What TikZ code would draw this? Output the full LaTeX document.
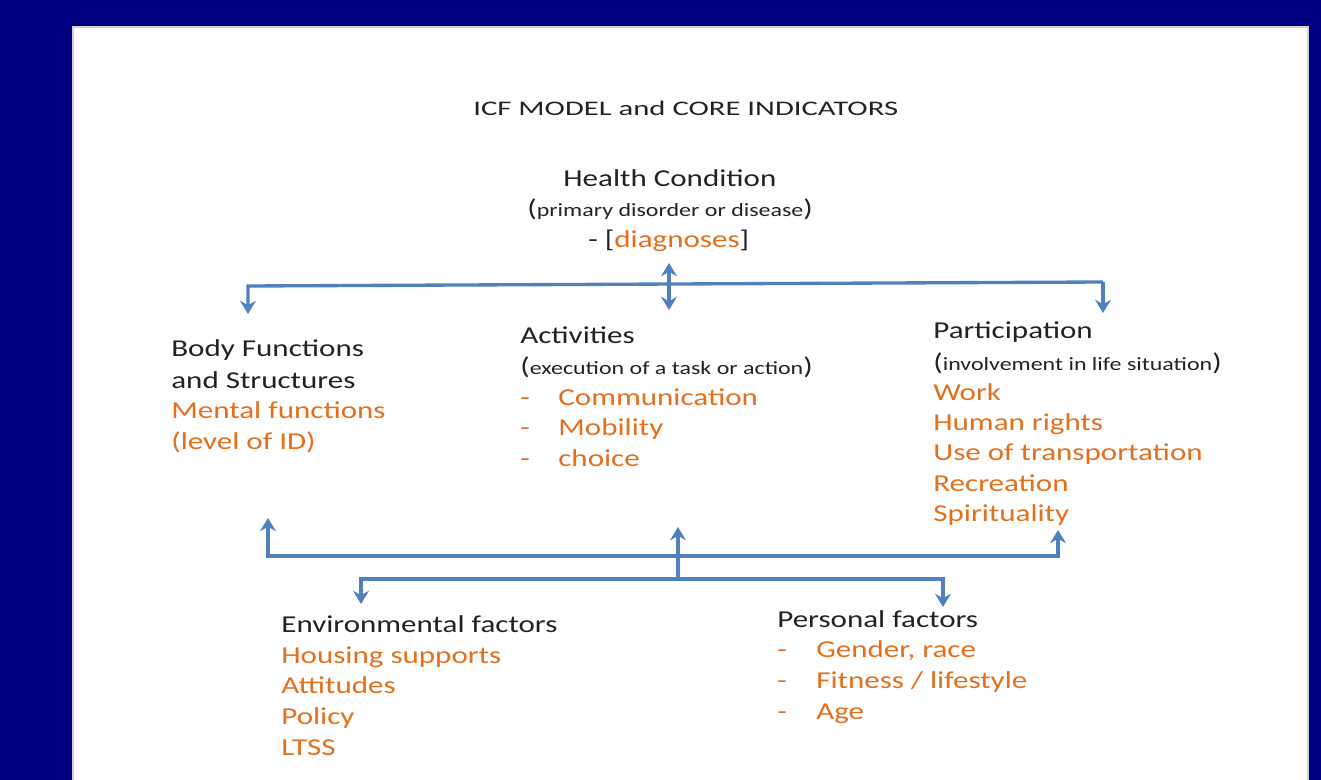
\documentclass[tikz,border=0pt]{standalone}
\usepackage{fontspec}
\setmainfont{Carlito}[FakeStretch=1.28]
\newfontfamily\titlefont{Carlito}[FakeStretch=1.48]
\usepackage{tikz}
\usetikzlibrary{arrows.meta}
\definecolor{navyback}{RGB}{0,0,128}
\definecolor{linkblue}{RGB}{79,129,189}
\definecolor{itemorange}{RGB}{228,112,30}
\definecolor{headgray}{RGB}{35,35,35}
\newcommand{\inparen}[1]{({\fontsize{10.65}{12}\selectfont #1})}

\begin{document}
\begin{tikzpicture}[x=0.02cm,y=-0.02cm,
    head/.style={anchor=base west,inner sep=0pt,text=headgray,font=\fontsize{13.8}{16}\selectfont},
    item/.style={head,text=itemorange},
    link/.style={linkblue,line width=1.9pt},
    arr/.style={-{Stealth[length=7.5pt,width=9pt,inset=2.5pt]}}]
  \useasboundingbox (0,0) rectangle (1321,780);
  % slide background and white panel
  \fill[navyback] (0,0) rectangle (1321,780);
  \fill[white] (73,27) rectangle (1308,780);
  \draw[gray!35,line width=0.6pt] (73,780) -- (73,27) -- (1308,27) -- (1308,780);

  \node[head,font=\titlefont\fontsize{11.8}{13}\selectfont] (title) at (473,116) {ICF MODEL and CORE INDICATORS};

  % health condition
  \node[head] (hc1) at (563,187) {Health Condition};
  \node[head] (hc2) at (527,217) {\inparen{primary disorder or disease}};
  \node[head] (hc3) at (588,248) {- [\textcolor{itemorange}{diagnoses}]};

  % body functions and structures
  \node[head] (bf1) at (171,357) {Body Functions};
  \node[head] (bf2) at (171,388) {and Structures};
  \node[item] (bf3) at (171,418) {Mental functions};
  \node[item] (bf4) at (171,449) {(level of ID)};

  % activities
  \node[head] (ac1) at (520,343) {Activities};
  \node[head] (ac2) at (520,375) {\inparen{execution of a task or action}};
  \foreach \t [count=\i] in {Communication,Mobility,choice} {
    \node[item] (acd\i) at (520,405+30.8*\i-30.8) {-};
    \node[item] (aci\i) at (558,405+30.8*\i-30.8) {\t};
  }

  % participation
  \node[head] (pa1) at (933,338) {Participation};
  \node[head] (pa2) at (933,370) {\inparen{involvement in life situation}};
  \foreach \t [count=\i] in {Work,Human rights,Use of transportation,Recreation,Spirituality}
    \node[item] (pai\i) at (933,400+30.4*\i-30.4) {\t};

  % environmental factors
  \node[head] (ef1) at (281,632) {Environmental factors};
  \foreach \t [count=\i] in {Housing supports,Attitudes,Policy,LTSS}
    \node[item] (efi\i) at (281,663+30.8*\i-30.8) {\t};

  % personal factors
  \node[head] (pf1) at (777,627) {Personal factors};
  \foreach \t [count=\i] in {{Gender, race},Fitness / lifestyle,Age} {
    \node[item] (pfd\i) at (777,657+31.3*\i-31.3) {-};
    \node[item] (pfi\i) at (816,657+31.3*\i-31.3) {\t};
  }

  % upper bus
  \coordinate (hcTop) at (669,263);
  \coordinate (hcFoot) at (669,310);
  \coordinate (busL) at (248,286);
  \coordinate (busR) at (1103,282);
  \coordinate (bfTip) at (248,314);
  \coordinate (paTip) at (1103,313);
  \draw[link,{Stealth[length=7.5pt,width=9pt,inset=2.5pt]}-{Stealth[length=7.5pt,width=9pt,inset=2.5pt]}] (hcTop) -- (hcFoot);
  \draw[link,arr] (busR) -- (busL) -- (bfTip);
  \draw[link,arr] (busR) -- (paTip);

  % lower buses
  \coordinate (upL) at (268,556);
  \coordinate (upR) at (1058,556);
  \coordinate (bfUp) at (268,518);
  \coordinate (paUp) at (1058,530);
  \coordinate (midFoot) at (678,579);
  \coordinate (acUp) at (678,527);
  \coordinate (lowL) at (361,579);
  \coordinate (lowR) at (943,579);
  \coordinate (efTip) at (361,604);
  \coordinate (pfTip) at (943,607);
  \draw[link,arr] (upR) -- (upL) -- (bfUp);
  \draw[link,arr] (upL) -- (upR) -- (paUp);
  \draw[link,arr] (midFoot) -- (acUp);
  \draw[link,arr] (lowR) -- (lowL) -- (efTip);
  \draw[link,arr] (lowL) -- (lowR) -- (pfTip);
\end{tikzpicture}
\end{document}
